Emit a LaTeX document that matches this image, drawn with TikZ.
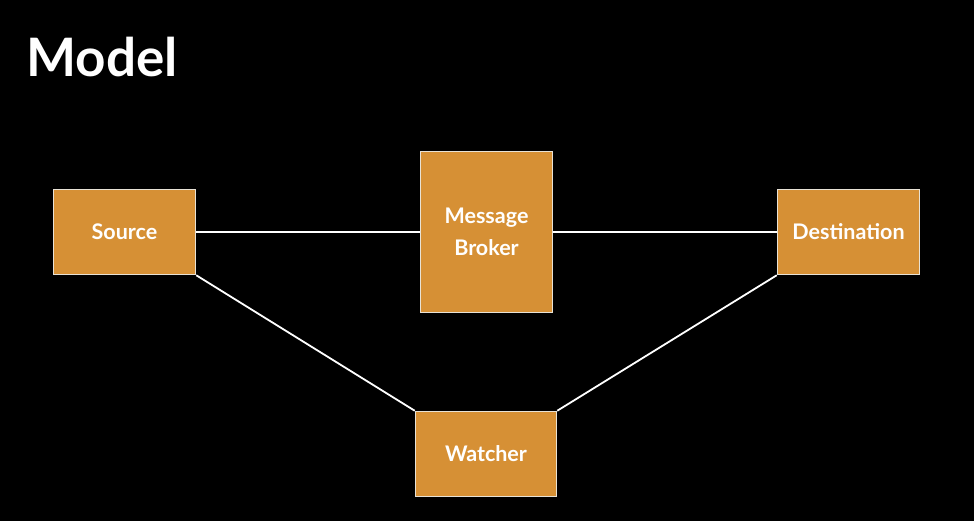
\documentclass[tikz,border=0pt]{standalone}
\usepackage{fontspec}
\setmainfont{Lato}
\usetikzlibrary{arrows.meta}
\definecolor{boxorange}{HTML}{D69035}
\definecolor{boxrim}{HTML}{E8E2D6}
\begin{document}
\begin{tikzpicture}[x=1pt,y=-1pt]
    \tikzstyle{box} = [draw=boxrim, line width=1.5pt, fill=boxorange, text=white, align=center, inner sep=2pt, font=\bfseries\fontsize{21.5}{32}\selectfont];
    \tikzstyle{line} = [draw=white, line width=1.8pt];
    \fill[black] (0,0) rectangle (974,521);
    \node[anchor=west, text=white, font=\bfseries\fontsize{53}{60}\selectfont] (title) at (23,57) {Model};
    \node[box, minimum width=142pt, minimum height=85pt] (source) at (124.5,232) {Source};
    \node[box, minimum width=132pt, minimum height=161pt] (broker) at (486.5,232) {Message\\Broker};
    \node[box, minimum width=142pt, minimum height=85pt] (dest) at (848.5,232) {Destination};
    \node[box, minimum width=141pt, minimum height=85pt] (watcher) at (486,454) {Watcher};
    \tikzstyle{every path}=[line]
    \path (source) -- (broker);
    \path (broker) -- (dest);
    \path (source.south east) -- (watcher.north west);
    \path (watcher.north east) -- (dest.south west);
\end{tikzpicture}
\end{document}
